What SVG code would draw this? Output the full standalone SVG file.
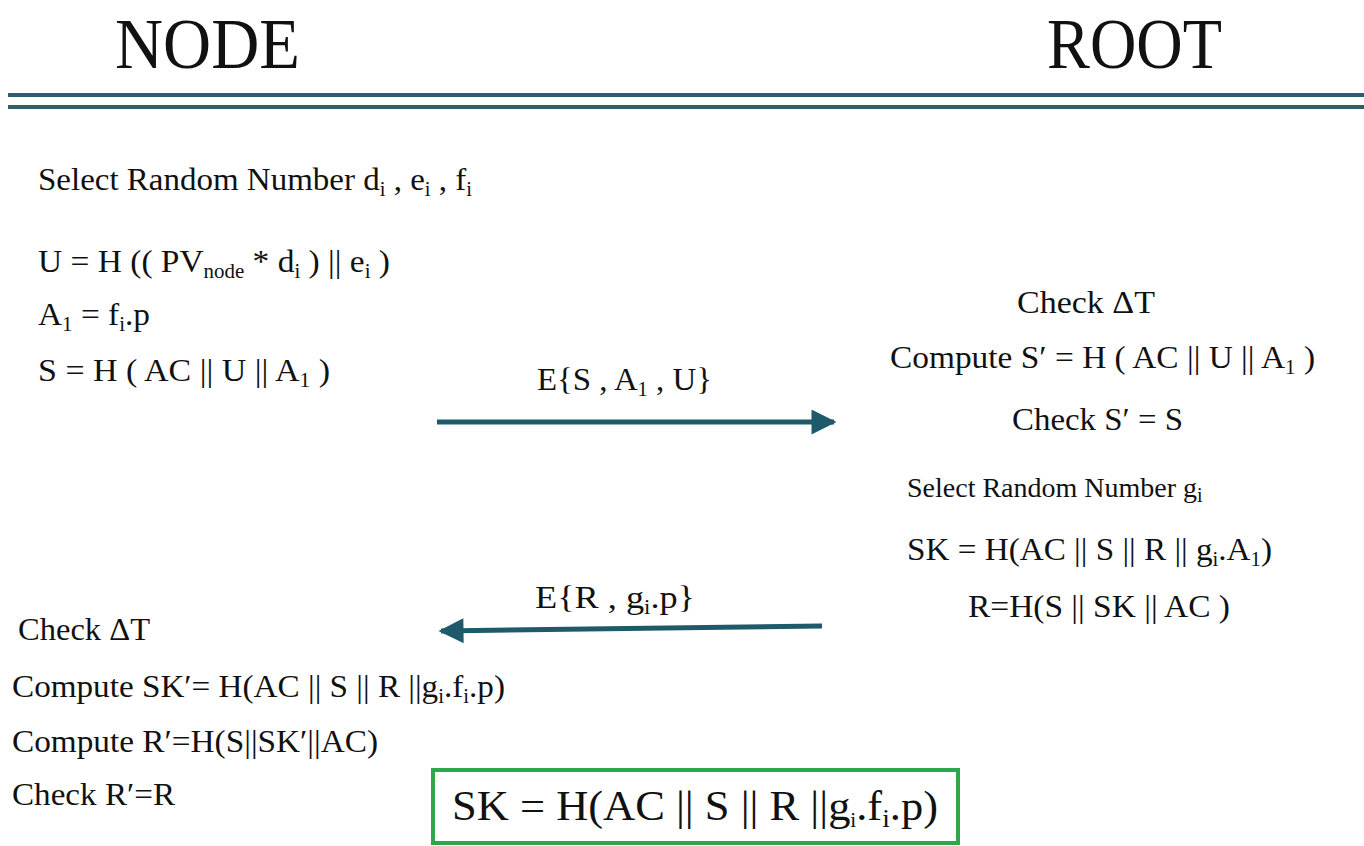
<svg xmlns="http://www.w3.org/2000/svg" width="1364" height="846" viewBox="0 0 1364 846">
<style>
text{font-family:"Liberation Serif","Times New Roman",serif;fill:#111;}
.h{font-size:72px;}
.t{font-size:32px;}
.t2{font-size:28px;}
.b{font-size:42px;}
.s{font-size:20px;}
.rule{stroke:#2c5e6c;stroke-width:4;}
.conn{stroke:#1f5a6b;stroke-width:5;fill:none;}
</style>
<defs>
<marker id="ah" viewBox="0 0 10 10" refX="9" refY="5" markerWidth="6.4" markerHeight="5" markerUnits="strokeWidth" orient="auto">
<path d="M0,0 L10,5 L0,10 z" fill="#1f5a6b"/>
</marker>
</defs>
<rect width="1364" height="846" fill="#fff"/>

<g id="header">
<text class="h" x="115" y="68" textLength="185" lengthAdjust="spacingAndGlyphs">NODE</text>
<text class="h" x="1047" y="68" textLength="175" lengthAdjust="spacingAndGlyphs">ROOT</text>
<line class="rule" x1="8" y1="95" x2="1364" y2="95"/>
<line class="rule" x1="8" y1="107" x2="1364" y2="107"/>
</g>

<g id="node-steps">
<text class="t" x="38" y="190" textLength="434" lengthAdjust="spacingAndGlyphs">Select Random Number d<tspan class="s" dy="6">i</tspan><tspan dy="-6"> , e</tspan><tspan class="s" dy="6">i</tspan><tspan dy="-6"> , f</tspan><tspan class="s" dy="6">i</tspan></text>
<text class="t" x="38" y="272" textLength="352" lengthAdjust="spacingAndGlyphs">U = H (( PV<tspan class="s" dy="6">node</tspan><tspan dy="-6"> * d</tspan><tspan class="s" dy="6">i</tspan><tspan dy="-6"> ) || e</tspan><tspan class="s" dy="6">i</tspan><tspan dy="-6"> )</tspan></text>
<text class="t" x="38" y="325" textLength="112" lengthAdjust="spacingAndGlyphs">A<tspan class="s" dy="6">1</tspan><tspan dy="-6"> = f</tspan><tspan class="s" dy="6">i</tspan><tspan dy="-6">.p</tspan></text>
<text class="t" x="38" y="381" textLength="292" lengthAdjust="spacingAndGlyphs">S = H ( AC || U || A<tspan class="s" dy="6">1</tspan><tspan dy="-6"> )</tspan></text>
</g>

<g id="root-steps">
<text class="t" x="1017" y="313" textLength="138" lengthAdjust="spacingAndGlyphs">Check ΔT</text>
<text class="t" x="890" y="368" textLength="425" lengthAdjust="spacingAndGlyphs">Compute S′ = H ( AC || U || A<tspan class="s" dy="6">1</tspan><tspan dy="-6"> )</tspan></text>
<text class="t" x="1012" y="430" textLength="171" lengthAdjust="spacingAndGlyphs">Check S′ = S</text>
<text class="t2" x="907" y="497">Select Random Number g<tspan class="s" font-size="18" dy="5">i</tspan></text>
<text class="t" x="907" y="560" textLength="365" lengthAdjust="spacingAndGlyphs">SK = H(AC || S || R || g<tspan class="s" dy="6">i</tspan><tspan dy="-6">.A</tspan><tspan class="s" dy="6">1</tspan><tspan dy="-6">)</tspan></text>
<text class="t" x="968" y="617" textLength="262" lengthAdjust="spacingAndGlyphs">R=H(S || SK || AC )</text>
</g>

<g id="node-verify">
<text class="t" x="18" y="640" textLength="132" lengthAdjust="spacingAndGlyphs">Check ΔT</text>
<text class="t" x="12" y="697" textLength="493" lengthAdjust="spacingAndGlyphs">Compute SK′= H(AC || S || R ||g<tspan class="s" dy="6">i</tspan><tspan dy="-6">.f</tspan><tspan class="s" dy="6">i</tspan><tspan dy="-6">.p)</tspan></text>
<text class="t" x="12" y="752" textLength="366" lengthAdjust="spacingAndGlyphs">Compute R′=H(S||SK′||AC)</text>
<text class="t" x="12" y="805" textLength="163" lengthAdjust="spacingAndGlyphs">Check R′=R</text>
</g>

<g id="session-key">
<rect x="433" y="770" width="525" height="73" fill="#fff" stroke="#2ca84a" stroke-width="4"/>
<text class="b" x="452" y="820" textLength="486" lengthAdjust="spacingAndGlyphs">SK = H(AC || S || R ||g<tspan class="s" font-size="26" dy="7">i</tspan><tspan dy="-7">.f</tspan><tspan font-size="26" dy="7">i</tspan><tspan dy="-7">.p)</tspan></text>
</g>

<g id="connectors">
<line class="conn" x1="437" y1="422" x2="834" y2="422" marker-end="url(#ah)"/>
<text class="t" x="537" y="390" textLength="175" lengthAdjust="spacingAndGlyphs">E{S , A<tspan class="s" dy="6">1</tspan><tspan dy="-6"> , U}</tspan></text>
<line class="conn" x1="822" y1="626" x2="441" y2="631" marker-end="url(#ah)"/>
<text class="t" x="535" y="608" textLength="160" lengthAdjust="spacingAndGlyphs">E{R , g<tspan class="s" dy="6">i</tspan><tspan dy="-6">.p}</tspan></text>
</g>
</svg>
